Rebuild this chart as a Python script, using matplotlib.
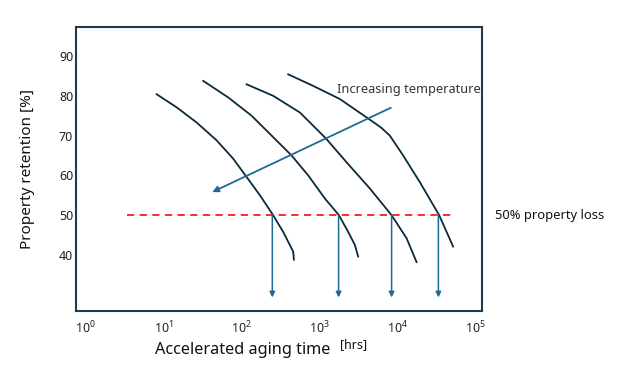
import numpy as np
import matplotlib
matplotlib.use("Agg")
import matplotlib.pyplot as plt

plt.rcParams['font.family'] = ['Noto Sans', 'DejaVu Sans']
plt.rcParams['mathtext.default'] = 'regular'

# curves: log10(time [hrs]) and property retention [%]
c1_logt = [0.906, 1.163, 1.419, 1.676, 1.888, 2.060, 2.231, 2.394, 2.529,
           2.615, 2.658, 2.667]
c1_ret = [80.4, 77.1, 73.3, 68.8, 64.2, 59.6, 55.0, 50.2, 45.8, 42.5, 40.8, 38.8]
c2_logt = [1.504, 1.824, 2.124, 2.381, 2.637, 2.850, 3.064, 3.244, 3.363,
           3.449, 3.491]
c2_ret = [83.75, 79.6, 75.0, 70.0, 65.0, 60.0, 54.2, 50.0, 45.8, 42.5, 39.6]
c3_logt = [2.060, 2.401, 2.744, 3.077, 3.342, 3.641, 3.919, 4.112, 4.240]
c3_ret = [82.9, 80.0, 75.8, 69.3, 63.3, 56.7, 50.0, 44.2, 38.2]
c4_logt = [2.594, 2.914, 3.256, 3.619, 3.780, 3.897, 4.068, 4.282, 4.530, 4.709]
c4_ret = [85.4, 82.5, 79.2, 74.3, 72.1, 70.0, 65.0, 58.3, 50.0, 42.1]

# times where each curve hits 50 % (log10 hrs)
cross_logt = [2.39, 3.24, 3.92, 4.52]
loss_level = 50
arrow_bottom = 29.3
dash_span = [3.4, 50700]

# "increasing temperature" arrow, (log10 t, retention)
temp_start = (3.91, 77.0)
temp_end = (1.62, 55.8)

yticks = [40, 50, 60, 70, 80, 90]
xticks = [1, 10, 100, 1000, 10000, 100000]

curve_col = '#0b2a3c'
arrow_col = '#1f6a94'

fig = plt.figure(figsize=(6.24, 3.69), dpi=100)
ax = fig.add_axes([0.1218, 0.1572, 0.6506, 0.7696])

for lt, r in [(c1_logt, c1_ret), (c2_logt, c2_ret), (c3_logt, c3_ret), (c4_logt, c4_ret)]:
    ax.plot(10 ** np.array(lt), r, color=curve_col, lw=1.3,
            solid_joinstyle='round')

ax.plot(dash_span, [loss_level, loss_level], color='#ff1a1a', lw=1.3,
        ls=(0, (4, 3)))

for lt in cross_logt:
    ax.annotate('', xy=(10 ** lt, arrow_bottom), xytext=(10 ** lt, loss_level),
                arrowprops=dict(arrowstyle='-|>', color=arrow_col, lw=1.1,
                                mutation_scale=8, shrinkA=0, shrinkB=0))

ax.annotate('', xy=(10 ** temp_end[0], temp_end[1]),
            xytext=(10 ** temp_start[0], temp_start[1]),
            arrowprops=dict(arrowstyle='-|>', color=arrow_col, lw=1.3,
                            mutation_scale=9, shrinkA=0, shrinkB=0))

ax.text(10 ** 3.22, 81.5, 'Increasing temperature', fontsize=9.2,
        color='#333333', va='center', ha='left')

ax.set_xscale('log')
ax.set_xlim(0.745, 120000)
ax.set_ylim(25.9, 97.3)
ax.set_xticks(xticks)
ax.set_xticklabels(['$10^{%d}$' % i for i in range(len(xticks))])
ax.minorticks_off()
ax.set_yticks(yticks)
ax.tick_params(axis='both', length=0, labelsize=9, colors='#222222')
ax.tick_params(axis='y', pad=2)
ax.tick_params(axis='x', pad=6)
for s in ax.spines.values():
    s.set_color('#1f3b4d')
    s.set_linewidth(1.5)

ax.set_ylabel('Property retention [%]', fontsize=11, color='#111111',
              labelpad=17)
fig.text(0.248, 0.051, 'Accelerated aging time', fontsize=11.7,
         color='#111111', va='center')
fig.text(0.545, 0.066, '[hrs]', fontsize=9, color='#111111', va='center')
fig.text(0.793, 0.417, '50% property loss', fontsize=9.3, color='#111111',
         va='center')

fig.savefig('out.png', dpi=100)
